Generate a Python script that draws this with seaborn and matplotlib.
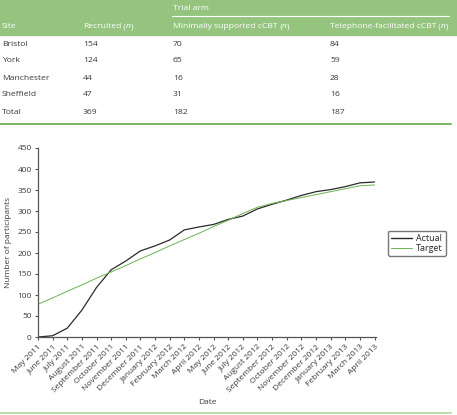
import numpy as np
import pandas as pd
import matplotlib
matplotlib.use('Agg')
import matplotlib.pyplot as plt
import seaborn as sns

# table data
sites = ['Bristol', 'York', 'Manchester', 'Sheffield', 'Total']
recruited = [154, 124, 44, 47, 369]
minimal = [70, 65, 16, 31, 182]
telephone = [84, 59, 28, 16, 187]

# recruitment curve
months = ['May 2011', 'June 2011', 'July 2011', 'August 2011', 'September 2011',
          'October 2011', 'November 2011', 'December 2011', 'January 2012',
          'February 2012', 'March 2012', 'April 2012', 'May 2012', 'June 2012',
          'July 2012', 'August 2012', 'September 2012', 'October 2012',
          'November 2012', 'December 2012', 'January 2013', 'February 2013',
          'March 2013', 'April 2013']
actual = [0, 3, 21, 64, 118, 160, 181, 205, 217, 231, 255, 262,
          268, 280, 288, 305, 316, 326, 337, 346, 351, 358, 367, 369]
target = [78, 93, 109, 124, 140, 155, 170, 186, 201, 217, 232, 247,
          263, 278, 294, 309, 318, 325, 332, 339, 346, 353, 360, 362]

sns.set_style('ticks')
plt.rcParams['font.family'] = ['Open Sans', 'DejaVu Sans']

W, H = 457, 415
fig = plt.figure(figsize=(W / 100, H / 100), dpi=100)
renderer = fig.canvas.get_renderer()

def fx(px):
    return px / W

def fy(py):
    return 1 - py / H

green = '#94c47d'
txt = '#3a3a3a'
fs = 6.0
tfs = 6.1

# table header band
fig.patches.append(plt.Rectangle((0, fy(35)), 1, 35 / H, transform=fig.transFigure,
                                 color=green, zorder=0))
fig.add_artist(plt.Line2D([fx(172), fx(449)], [fy(16.5), fy(16.5)], color='white',
                          lw=0.8, transform=fig.transFigure))
fig.text(fx(173), fy(8), 'Trial arm', color='white', fontsize=tfs, va='center')
cols_x = [2, 83, 173, 330]
headers = ['Site', 'Recruited', 'Minimally supported cCBT',
           'Telephone-facilitated cCBT']
for i, (x, h) in enumerate(zip(cols_x, headers)):
    t = fig.text(fx(x), fy(27), h, color='white', fontsize=tfs, va='center')
    if i == 0:
        continue
    # append " (n)" with italic n
    x0 = t.get_window_extent(renderer).x1
    for part, style in [(' (', 'normal'), ('n', 'italic'), (')', 'normal')]:
        p = fig.text(x0 / W, fy(27), part, color='white', fontsize=tfs,
                     va='center', style=style)
        x0 = p.get_window_extent(renderer).x1

row_y = [44, 61, 78, 95, 112]
for i, y in enumerate(row_y):
    vals = [sites[i], str(recruited[i]), str(minimal[i]), str(telephone[i])]
    for x, v in zip(cols_x, vals):
        fig.text(fx(x), fy(y), v, color=txt, fontsize=tfs, va='center')

fig.add_artist(plt.Line2D([0, fx(451)], [fy(124), fy(124)], color='#6fae55',
                          lw=1.3, transform=fig.transFigure))
fig.add_artist(plt.Line2D([0, fx(451)], [fy(413), fy(413)], color='#b3dba0',
                          lw=1.3, transform=fig.transFigure))

# chart
ax = fig.add_axes([fx(38), fy(337), fx(376) - fx(38), (337 - 148) / H])
df = pd.DataFrame({
    'idx': list(range(len(months))) * 2,
    'value': actual + target,
    'series': ['Actual'] * len(months) + ['Target'] * len(months),
})
sns.lineplot(data=df, x='idx', y='value', hue='series', ax=ax,
             palette={'Actual': '#2a2a2a', 'Target': '#6bb34f'}, legend=False)
ax.lines[0].set_linewidth(0.9)
ax.lines[1].set_linewidth(0.7)

ax.set_xlim(0, len(months) - 0.9)
ax.set_ylim(0, 450)
ax.set_yticks(range(0, 451, 50))
ax.set_xticks(range(len(months)))
ax.set_xticklabels(months, rotation=45, ha='right', rotation_mode='anchor')
ax.tick_params(labelsize=fs, colors='#555555', labelcolor=txt, length=2.5, width=0.8, pad=2)
for s in ['top', 'right']:
    ax.spines[s].set_visible(False)
for s in ['left', 'bottom']:
    ax.spines[s].set_color('#555555')
    ax.spines[s].set_linewidth(0.9)
ax.set_xlabel('Date', fontsize=fs, color=txt, labelpad=4)
ax.set_ylabel('Number of participants', fontsize=fs, color=txt, labelpad=4)

handles = [plt.Line2D([], [], color='#2a2a2a', lw=1.0),
           plt.Line2D([], [], color='#6bb34f', lw=0.7)]
fig.legend(handles, ['Actual', 'Target'], loc='center left',
           bbox_to_anchor=(fx(388), fy(243.5)), fontsize=6.4, frameon=True,
           edgecolor='#555555', fancybox=True, handlelength=2.4,
           borderpad=0.35, labelspacing=0.15, handletextpad=0.4, borderaxespad=0)

fig.savefig('out.png', dpi=100)
